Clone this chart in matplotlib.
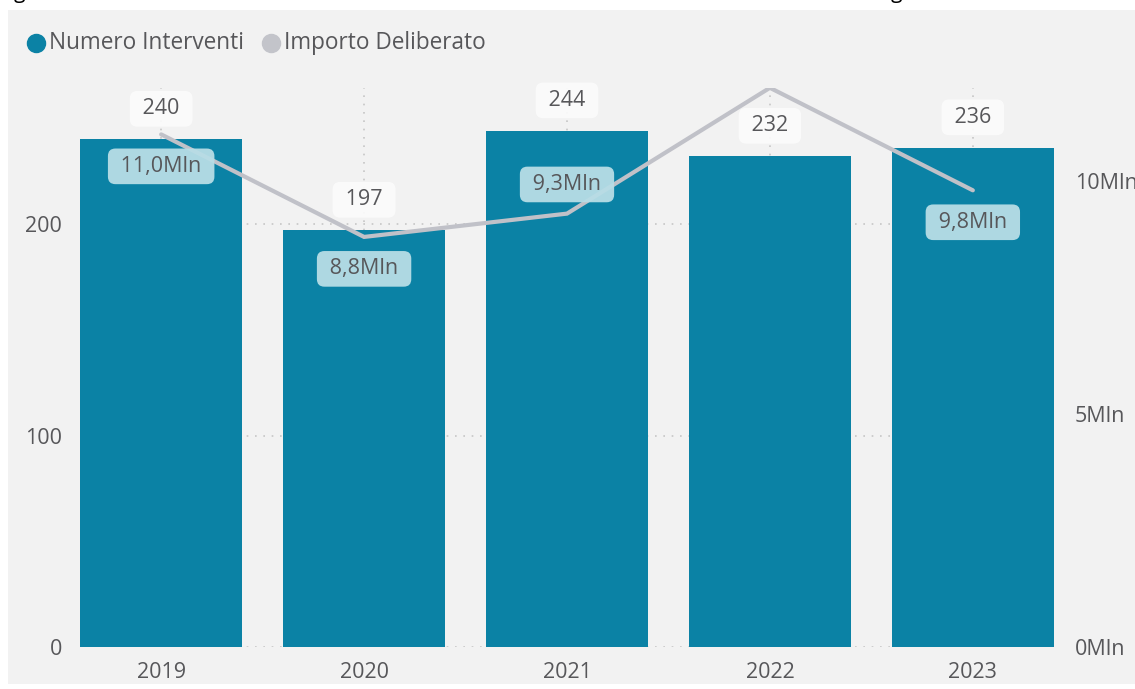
import matplotlib
matplotlib.use("Agg")
import numpy as np
import matplotlib.pyplot as plt
from matplotlib.patches import Rectangle
from matplotlib.lines import Line2D

# Data
years = ["2019", "2020", "2021", "2022", "2023"]
interventi = [240, 197, 244, 232, 236]
importo_mln = [11.0, 8.8, 9.3, 12.0, 9.8]
importo_labels = ["11,0Mln", "8,8Mln", "9,3Mln", None, "9,8Mln"]

bar_color = "#0b82a5"
line_color = "#c0c1c8"
text_color = "#57575a"
bg_color = "#f2f2f2"
fs = 15.5

plt.rcParams["font.family"] = ["Open Sans", "DejaVu Sans"]

W, H = 1135, 689
fig = plt.figure(figsize=(W / 100, H / 100), dpi=100)
fig.patch.set_facecolor("white")

# gray panel behind the visual
fig.add_artist(Rectangle((8 / W, 1 - 684 / H), 1 - 8 / W, (684 - 10) / H,
                         transform=fig.transFigure, facecolor=bg_color,
                         edgecolor="none", zorder=0))

# descenders of a cut-off caption above the panel
fig.text(14 / W, 1 + 2 / H, "g", fontsize=15, color="black", va="baseline")
fig.text(891 / W, 1 + 2 / H, "g", fontsize=15, color="black", va="baseline")

# legend
for cx, label, col in [(36, "Numero Interventi", bar_color),
                       (271, "Importo Deliberato", "#c3c4ca")]:
    fig.add_artist(Line2D([cx / W], [1 - 43 / H], transform=fig.transFigure,
                          marker="o", markersize=13, color=col, linestyle="none"))
    fig.text((cx + 13) / W, 1 - 43 / H, label, fontsize=16.3, color=text_color,
             va="center", ha="left")

left, right, bottom, top = 80, 1054, 647, 88
ax = fig.add_axes([left / W, 1 - bottom / H, (right - left) / W, (bottom - top) / H])
ax.set_facecolor("none")
ax2 = ax.twinx()

x = np.arange(len(years))
ax.set_xlim(-0.4, len(years) - 0.6)
ax.set_ylim(0, (bottom - top) / 2.115)
ax2.set_ylim(0, (bottom - top) / 46.6)

# grid
for v in [0, 100, 200]:
    ax.axhline(v, color="#c6c6c6", linestyle=(0, (1, 4)), linewidth=1.2, zorder=0)
for xi in x:
    ax.axvline(xi, color="#c6c6c6", linestyle=(0, (1, 4)), linewidth=1.2, zorder=0)

ax.bar(x, interventi, width=0.8, color=bar_color, zorder=2)

ax2.plot(x, importo_mln, color=line_color, linewidth=3, solid_capstyle="round",
         solid_joinstyle="miter", zorder=3)

box = "round,pad=0.34,rounding_size=0.35"

# bar labels
for xi, v in zip(x, interventi):
    ax.annotate(f" {v} ", (xi, v), xytext=(0, 22), textcoords="offset points",
                ha="center", va="center", fontsize=fs, color=text_color, zorder=5,
                bbox=dict(boxstyle=box, facecolor="#fcfcfc", edgecolor="none",
                          alpha=0.9))

# line labels
for xi, v, lab in zip(x, importo_mln, importo_labels):
    if lab is None:
        continue
    dy = 21 if xi == 2 else -23
    ax2.annotate(f" {lab} ", (xi, v), xytext=(0, dy), textcoords="offset points",
                 ha="center", va="center", fontsize=fs, color=text_color, zorder=6,
                 bbox=dict(boxstyle=box, facecolor="#b8dde6", edgecolor="none",
                           alpha=0.95))

ax2.set_zorder(ax.get_zorder() + 1)

# ticks
ax.set_xticks(x)
ax.set_xticklabels(years)
ax.set_yticks([0, 100, 200])
ax2.set_yticks([0, 5, 10])
ax2.set_yticklabels(["0Mln", "5Mln", "10Mln"])
ax.tick_params(axis="x", length=0, pad=11, labelsize=fs, labelcolor=text_color)
ax.tick_params(axis="y", length=0, pad=13, labelsize=fs, labelcolor=text_color)
ax2.tick_params(axis="y", length=0, pad=15, labelsize=fs, labelcolor=text_color)

for a in (ax, ax2):
    for s in a.spines.values():
        s.set_visible(False)

fig.savefig("out.png", dpi=100)
